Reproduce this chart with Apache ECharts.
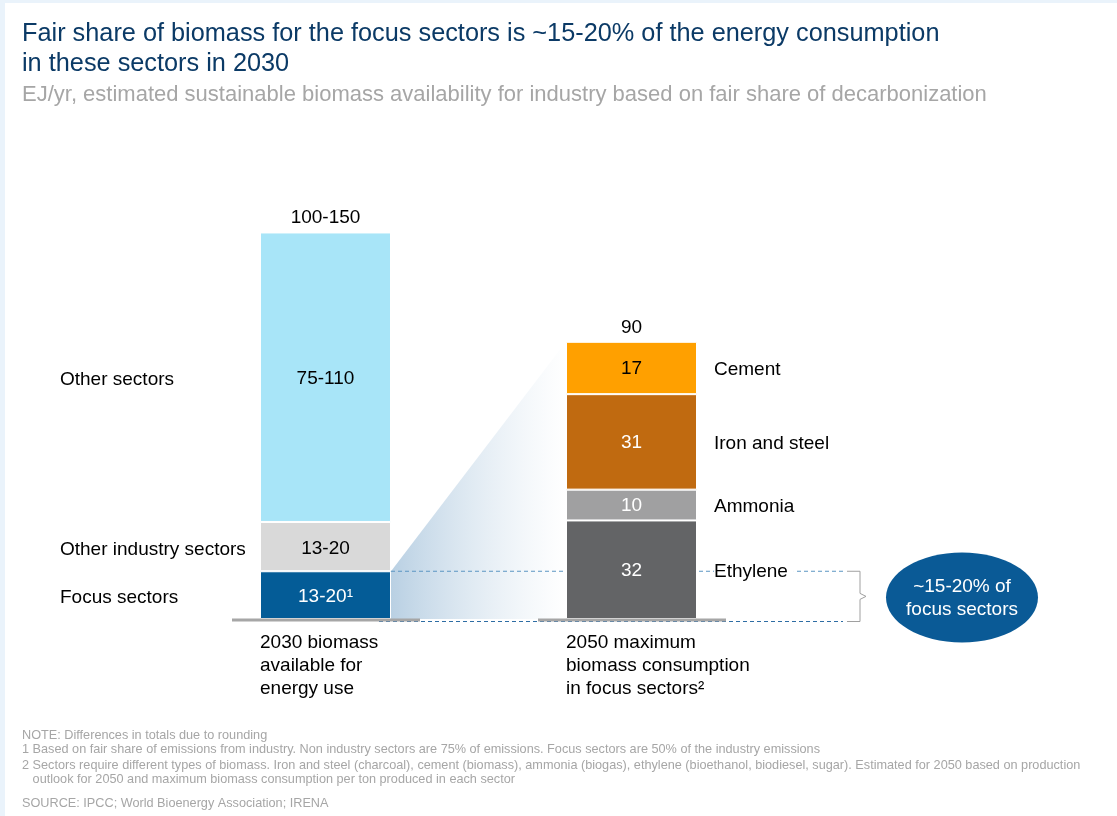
<!DOCTYPE html>
<html>
<head>
<meta charset="utf-8">
<title>Fair share of biomass</title>
<script src="https://cdn.jsdelivr.net/npm/echarts@6/dist/echarts.min.js"></script>
<style>
  html, body { margin: 0; padding: 0; background: #fff; }
  #myEcharts { width: 1117px; height: 816px; }
</style>
</head>
<body>
<div id="myEcharts"></div>
<script>
// categories (bars)
const categories = [
  "2030 biomass\navailable for\nenergy use",
  "2050 maximum\nbiomass consumption\nin focus sectors\u00b2",
];

// left bar: 2030 availability, bottom -> top (heights)
const leftNames = ["Focus sectors", "Other industry sectors", "Other sectors"];
const leftValues = [15.5, 16, 94];
const leftLabels = ["13-20\u00b9", "13-20", "75-110"];
const leftColors = ["#045c97", "#d9d9d9", "#a8e5f8"];
const leftTextColors = ["#ffffff", "#000000", "#000000"];

// right bar: 2050 focus sectors, bottom -> top
const rightNames = ["Ethylene", "Ammonia", "Iron and steel", "Cement"];
const rightValues = [32, 10, 31, 17];
const rightColors = ["#636466", "#a0a0a1", "#c06a10", "#ffa000"];
const rightTextColors = ["#ffffff", "#ffffff", "#ffffff", "#000000"];

// totals above the bars
const totalLabels = ["100-150", "90"];

const bubbleText = "~15-20% of\nfocus sectors";

const footnotes = [
  "NOTE: Differences in totals due to rounding",
  "1 Based on fair share of emissions from industry. Non industry sectors are 75% of emissions. Focus sectors are 50% of the industry emissions",
  "2 Sectors require different types of biomass. Iron and steel (charcoal), cement (biomass), ammonia (biogas), ethylene (bioethanol, biodiesel, sugar). Estimated for 2050 based on production",
  "   outlook for 2050 and maximum biomass consumption per ton produced in each sector",
  "SOURCE: IPCC; World Bioenergy Association; IRENA",
];
const footnoteY = [735, 749, 765, 779, 803];

const FONT = "'Liberation Sans', Arial, sans-serif";
const FS = 19; // label font size
const BAR_W = 131;

const chart = echarts.init(document.getElementById("myEcharts"));

// one series per segment so every segment can have its own colour / label
const series = [];
leftValues.forEach((v, i) => {
  series.push({
    name: leftNames[i],
    type: "bar",
    stack: "total",
    barWidth: BAR_W,
    data: [v, "-"],
    itemStyle: { color: leftColors[i], borderColor: "#fff", borderWidth: 1 },
    label: {
      show: true,
      position: "inside",
      offset: [0, 2],
      formatter: leftLabels[i],
      color: leftTextColors[i],
      fontSize: FS,
      fontFamily: FONT,
    },
  });
});
rightValues.forEach((v, i) => {
  series.push({
    name: rightNames[i],
    type: "bar",
    stack: "total",
    barWidth: BAR_W,
    data: ["-", v],
    itemStyle: { color: rightColors[i], borderColor: "#fff", borderWidth: 1 },
    label: {
      show: true,
      position: "inside",
      offset: [0, 1],
      formatter: "{c}",
      color: rightTextColors[i],
      fontSize: FS,
      fontFamily: FONT,
    },
  });
});
// zero-height bar on top of each stack just to carry the total label
series.push({
  name: "total",
  type: "bar",
  stack: "total",
  barWidth: BAR_W,
  data: [0, 0],
  itemStyle: { color: "transparent" },
  label: {
    show: true,
    position: "top",
    distance: 5,
    formatter: p => totalLabels[p.dataIndex],
    color: "#000",
    fontSize: FS,
    fontFamily: FONT,
  },
});

const option = {
  animation: false,
  backgroundColor: "#fff",
  title: {
    left: 22,
    top: 19,
    padding: 0,
    itemGap: 3,
    text: "Fair share of biomass for the focus sectors is ~15-20% of the energy consumption\nin these sectors in 2030",
    subtext: "EJ/yr, estimated sustainable biomass availability for industry based on fair share of decarbonization",
    textStyle: { fontFamily: FONT, fontSize: 25.3, fontWeight: "normal", color: "#0b3a66", lineHeight: 30 },
    subtextStyle: { fontFamily: FONT, fontSize: 22, color: "#a6a6a6", lineHeight: 26 },
  },
  grid: { left: 172.5, right: 332.5, top: 157, bottom: 197 },
  xAxis: {
    type: "category",
    data: categories,
    axisLine: { show: false },
    axisTick: { show: false },
    axisLabel: { show: false },
  },
  yAxis: {
    type: "value",
    min: 0,
    max: 150,
    show: false,
  },
  series: series,
};

chart.setOption(option);

// extra drawing (labels, connector, bracket, bubble) placed from the axes
function drawExtras() {
  const px = (i, v) => chart.convertToPixel({ gridIndex: 0 }, [i, v]);
  const half = BAR_W / 2;
  const base = px(0, 0)[1];
  const leftX = px(0, 0)[0];
  const rightX = px(1, 0)[0];
  const focusTop = px(0, leftValues[0])[1];
  const rightTop = px(1, rightValues.reduce((a, b) => a + b, 0))[1];
  const bracketX = 847;
  const g = [];

  // light blue frame at left and top
  g.push({ type: "rect", shape: { x: 0, y: 0, width: 1117, height: 3 }, style: { fill: "#eaf3fb" }, z: 0 });
  g.push({ type: "rect", shape: { x: 0, y: 0, width: 5, height: 816 }, style: { fill: "#eaf3fb" }, z: 0 });

  // zoom-in trapezoid
  g.push({
    type: "polygon",
    z: 0,
    shape: {
      points: [
        [leftX + half, focusTop],
        [rightX - half, rightTop],
        [rightX - half, base],
        [leftX + half, base],
      ],
    },
    style: {
      fill: new echarts.graphic.LinearGradient(0, 0, 1, 0, [
        { offset: 0, color: "#b9d0e3" },
        { offset: 1, color: "rgba(255,255,255,0.6)" },
      ]),
    },
  });

  // dashed connector lines
  g.push({
    type: "line",
    z: 1,
    shape: { x1: leftX + half, y1: focusTop, x2: bracketX - 4, y2: focusTop },
    style: { stroke: "#5b95c2", lineWidth: 1, lineDash: [4, 3] },
  });
  g.push({
    type: "line",
    z: 1,
    shape: { x1: leftX + half - 12, y1: base + 2.5, x2: bracketX - 4, y2: base + 2.5 },
    style: { stroke: "#2e6da4", lineWidth: 1, lineDash: [4, 3] },
  });

  // grey base lines under the bars
  [leftX, rightX].forEach(cx => {
    g.push({
      type: "line",
      z: 5,
      shape: { x1: cx - half - 28, y1: base + 1, x2: cx + half + 29, y2: base + 1 },
      style: { stroke: "#a6a6a6", lineWidth: 3 },
    });
  });

  // segment names, left side
  let acc = 0;
  leftValues.forEach((v, i) => {
    const y = px(0, acc + v / 2)[1];
    acc += v;
    g.push({
      type: "text",
      z: 10,
      x: 60,
      y: y + 3,
      style: { text: leftNames[i], fontFamily: FONT, fontSize: FS, fill: "#000", verticalAlign: "middle" },
    });
  });

  // segment names, right side
  acc = 0;
  rightValues.forEach((v, i) => {
    const y = px(1, acc + v / 2)[1];
    acc += v;
    g.push({
      type: "text",
      z: 10,
      x: rightX + half + 17,
      y: y + 2,
      style: {
        text: rightNames[i],
        fontFamily: FONT,
        fontSize: FS,
        fill: "#000",
        verticalAlign: "middle",
        backgroundColor: "#fff",
        padding: [0, 6, 0, 0],
      },
    });
  });

  // category labels under the bars
  categories.forEach((c, i) => {
    g.push({
      type: "text",
      z: 10,
      x: px(i, 0)[0] - half,
      y: base + 12,
      style: { text: c, fontFamily: FONT, fontSize: FS, fill: "#000", lineHeight: 23, verticalAlign: "top" },
    });
  });

  // bracket
  const mid = (focusTop + base + 2.5) / 2;
  g.push({
    type: "polyline",
    z: 10,
    shape: {
      points: [
        [bracketX, focusTop], [bracketX + 13, focusTop], [bracketX + 13, mid - 3],
        [bracketX + 19, mid], [bracketX + 13, mid + 3], [bracketX + 13, base + 2.5], [bracketX, base + 2.5],
      ],
    },
    style: { stroke: "#a0a0a0", lineWidth: 1, fill: null },
  });

  // bubble
  g.push({
    type: "ellipse",
    z: 10,
    shape: { cx: 962, cy: mid + 1, rx: 76, ry: 45 },
    style: { fill: "#0a5a96" },
  });
  g.push({
    type: "text",
    z: 11,
    x: 962,
    y: mid + 2,
    style: {
      text: bubbleText,
      fontFamily: FONT,
      fontSize: FS,
      lineHeight: 23,
      fill: "#fff",
      align: "center",
      verticalAlign: "middle",
    },
  });

  // footnotes
  footnotes.forEach((t, i) => {
    g.push({
      type: "text",
      z: 10,
      x: 22,
      y: footnoteY[i],
      style: { text: t, fontFamily: FONT, fontSize: 12.7, fill: "#a6a6a6", verticalAlign: "middle" },
    });
  });

  chart.setOption({ graphic: g });
}

drawExtras();
</script>
</body>
</html>
